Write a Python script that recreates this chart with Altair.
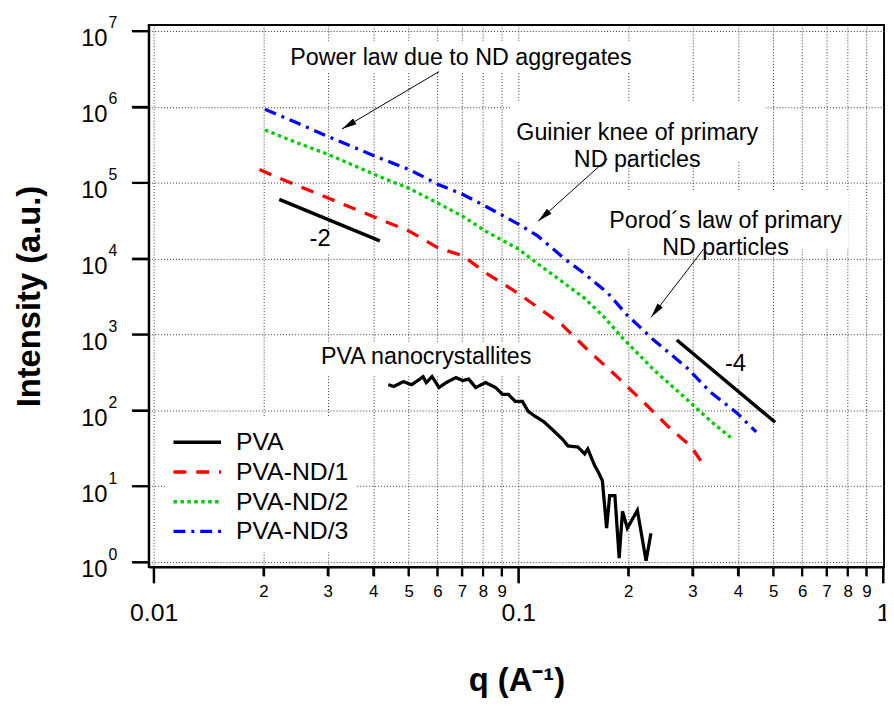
import math
import pandas as pd
import altair as alt

# ---------------- data ----------------
series_names = ["PVA", "PVA-ND/1", "PVA-ND/2", "PVA-ND/3"]

pva_q = [0.0440, 0.0455, 0.0484, 0.0509, 0.0525, 0.0548, 0.0559, 0.0580, 0.0606, 0.0634,
         0.0674, 0.0705, 0.0731, 0.0764, 0.0813, 0.0866, 0.0905, 0.0939, 0.0981, 0.1026,
         0.1064, 0.1111, 0.117, 0.1236, 0.132, 0.1368, 0.1456, 0.152, 0.155, 0.162,
         0.165, 0.170, 0.1746, 0.178, 0.184, 0.189, 0.193, 0.199, 0.212, 0.224, 0.231]
pva_I = [218, 206, 239, 218, 239, 278, 232, 278, 200, 232,
         270, 247, 258, 200, 232, 200, 162, 162, 131, 131,
         97, 83.5, 71.8, 56.5, 41.8, 33.9, 32.9, 26.7, 31, 18.6,
         16, 11.8, 2.8, 7.5, 7.5, 1.13, 4.66, 2.8, 4.8, 1.04, 2.4]

nd1_q = [0.0195, 0.0223, 0.0303, 0.0417, 0.0502, 0.0603, 0.0705, 0.0813, 0.100, 0.113,
         0.132, 0.155, 0.184, 0.221, 0.262, 0.297, 0.327]
nd1_I = [1.49e5, 1.13e5, 6.2e4, 3.3e4, 2.3e4, 1.38e4, 1.09e4, 6.5e3, 3.47e3, 2.28e3,
         1.33e3, 625, 295, 127, 56.5, 33.9, 17]

nd2_q = [0.0202, 0.0248, 0.0303, 0.0417, 0.0502, 0.0603, 0.0705, 0.0813, 0.100, 0.113,
         0.134, 0.152, 0.172, 0.192, 0.235, 0.290, 0.337, 0.382]
nd2_I = [4.95e5, 3.35e5, 2.33e5, 1.2e5, 8.4e4, 5.35e4, 3.6e4, 2.3e4, 1.34e4, 8.55e3,
         4.7e3, 2.99e3, 1.69e3, 925, 343, 139, 72, 44]

nd3_q = [0.0202, 0.0248, 0.0303, 0.0408, 0.0502, 0.0603, 0.0705, 0.0813, 0.100, 0.113,
         0.134, 0.152, 0.176, 0.199, 0.235, 0.290, 0.337, 0.396, 0.449]
nd3_I = [9.3e5, 6.1e5, 4.0e5, 2.2e5, 1.49e5, 9.5e4, 7.0e4, 4.9e4, 2.85e4, 1.99e4,
         9.9e3, 6.3e3, 3.5e3, 1.79e3, 845, 364, 172, 94, 52]

# guide slopes
slope_ids = ["-2", "-2", "-4", "-4"]
slope_q = [0.0221, 0.0417, 0.272, 0.506]
slope_I = [6.04e4, 1.71e4, 845, 69.7]
slope_labels = ["-2", "-4"]
slope_label_q = [0.0286, 0.394]
slope_label_I = [1.81e4, 411]

# annotations
annot_text = ["Power law due to ND aggregates",
              "Guinier knee of primary\nND particles",
              "Porod\u00b4s law of primary\nND particles",
              "PVA nanocrystallites"]
annot_q = [0.0696, 0.2118, 0.370, 0.0559]
annot_I = [4.44e6, 4.45e5, 3.115e4, 507]

# white boxes behind the annotation texts
box_q1 = [0.02327, 0.0951, 0.1702, 0.02773, 0.02637, 0.3605]
box_q2 = [0.208, 0.4749, 0.8035, 0.1133, 0.03124, 0.4296]
box_I1 = [7.40e6, 1.148e6, 7.68e4, 796, 2.45e4, 589]
box_I2 = [2.83e6, 1.89e5, 1.343e4, 286, 1.19e4, 278]

# arrows (start -> tip)
arrow_q_from = [0.0606, 0.1757, 0.3224]
arrow_I_from = [2.916e6, 2.07e5, 1.343e4]
arrow_q_to = [0.03283, 0.1133, 0.2312]
arrow_I_to = [5.1e5, 3.115e4, 1687]

x_major_ticks = [0.01, 0.1, 1.0]
x_minor_ticks = [0.02, 0.03, 0.04, 0.05, 0.06, 0.07, 0.08, 0.09,
                 0.2, 0.3, 0.4, 0.5, 0.6, 0.7, 0.8, 0.9]
y_ticks = [1, 10, 100, 1000, 1e4, 1e5, 1e6, 1e7]

# ---------------- layout / style ----------------
W, H = 742, 547
X_DOMAIN = [0.009692, 1.0063]
Y_DOMAIN = [0.86, 1.198e7]
FONT = "Liberation Sans"
GRID = dict(grid=True, gridColor="#333333", gridDash=[1, 2], gridWidth=1)
series_colors = ["#000000", "#ff0000", "#00cc00", "#0000ff"]
series_dash = [[1, 0], [13, 10], [3.5, 3.5], [12, 6, 3, 6]]

# ---------------- tables ----------------
rows = []
for name, qs, Is in zip(series_names, [pva_q, nd1_q, nd2_q, nd3_q], [pva_I, nd1_I, nd2_I, nd3_I]):
    for q, I in zip(qs, Is):
        rows.append({"series": name, "q": q, "I": I})
df = pd.DataFrame(rows)

df_slope = pd.DataFrame({"id": slope_ids, "q": slope_q, "I": slope_I})
df_slope_lab = pd.DataFrame({"t": slope_labels, "q": slope_label_q, "I": slope_label_I})
df_annot = pd.DataFrame({"t": annot_text, "q": annot_q, "I": annot_I})
df_box = pd.DataFrame({"q1": box_q1, "q2": box_q2, "I1": box_I1, "I2": box_I2})

kx = W / (math.log10(X_DOMAIN[1]) - math.log10(X_DOMAIN[0]))
ky = H / (math.log10(Y_DOMAIN[1]) - math.log10(Y_DOMAIN[0]))
angles = []
for q0, I0, q1, I1 in zip(arrow_q_from, arrow_I_from, arrow_q_to, arrow_I_to):
    dx = kx * (math.log10(q1) - math.log10(q0))
    dy = -ky * (math.log10(I1) - math.log10(I0))
    angles.append(math.degrees(math.atan2(dx, -dy)) % 360)
df_arrow = pd.DataFrame({"q0": arrow_q_from, "I0": arrow_I_from,
                         "q1": arrow_q_to, "I1": arrow_I_to, "ang": angles})
df_yt = pd.DataFrame({"v": y_ticks})
df_xminor = pd.DataFrame({"v": x_minor_ticks})
df_xmajor = pd.DataFrame({"v": x_major_ticks})

xscale = alt.Scale(type="log", domain=X_DOMAIN, nice=False)
yscale = alt.Scale(type="log", domain=Y_DOMAIN, nice=False)

xaxis_major = alt.Axis(
    values=x_major_ticks, orient="bottom",
    labelExpr="datum.value < 0.05 ? '0.01' : datum.value < 0.5 ? '0.1' : '1'",
    title="q (A\u207b\u00b9)",
    labelFont=FONT, labelColor="black", labelFontSize=25, labelPadding=18,
    ticks=True, tickSize=16, tickWidth=2, tickColor="black", tickOpacity=1,
    domain=True, domainColor="black", domainWidth=2, domainOpacity=1,
    labelBaseline="top", labelOverlap=False, labelFlush=False, labelBound=False,
    titleFont=FONT, titleFontSize=33, titleFontWeight="bold", titleColor="black",
    titleX=W / 2, titleY=125, titleBaseline="alphabetic", titleAlign="center",
    **GRID,
)

xaxis_minor = alt.Axis(
    values=x_minor_ticks, orient="bottom",
    labelExpr="toString(round(datum.value / pow(10, floor(log(datum.value) / LN10 + 1e-9))))",
    title=None, domain=False,
    labelFont=FONT, labelColor="black", labelFontSize=17, labelPadding=8,
    ticks=True, tickSize=9, tickWidth=2, tickColor="black", tickOpacity=1,
    labelBaseline="top", labelOverlap=False, labelFlush=False, labelBound=False,
    **GRID,
)

yaxis = alt.Axis(
    values=y_ticks, labelExpr="'10'", orient="left", title="Intensity (a.u.)",
    labelFont=FONT, labelFontSize=24, labelColor="black", labelPadding=25,
    labelBaseline="middle", labelOffset=8, labelOverlap=False, labelFlush=False,
    ticks=True, tickSize=17, tickWidth=2, tickColor="black", tickOpacity=1,
    domain=True, domainColor="black", domainWidth=2, domainOpacity=1,
    titleFont=FONT, titleFontSize=33, titleFontWeight="bold", titleColor="black",
    titleAngle=270, titleX=-110, titleY=H / 2, titleBaseline="alphabetic", titleAlign="center",
    **GRID,
)

yaxis_exp = alt.Axis(
    values=y_ticks, orient="left", labelExpr="toString(round(log(datum.value) / LN10))",
    title=None, ticks=False, domain=False, grid=False,
    labelFont=FONT, labelFontSize=16, labelColor="black", labelAlign="left",
    labelPadding=41, labelBaseline="middle", labelOffset=-8,
    labelOverlap=False, labelFlush=False,
)

# legend: a 48px long horizontal stroke as the symbol
legend = alt.Legend(
    orient="none", legendX=17, legendY=396, title=None,
    symbolType="M-1.574,0H1.574", symbolSize=930, symbolStrokeWidth=3.5, symbolOffset=7,
    symbolFillColor="transparent",
    labelFont=FONT, labelFontSize=25, labelColor="black", labelOffset=22,
    fillColor="white", padding=8, rowPadding=0,
)

boxes = alt.Chart(df_box).mark_rect(fill="white").encode(
    x=alt.X("q1:Q", scale=xscale, axis=None),
    x2="q2:Q",
    y=alt.Y("I1:Q", scale=yscale, axis=None),
    y2="I2:Q",
)

lines = alt.Chart(df).mark_line(strokeWidth=3.3).encode(
    x=alt.X("q:Q", scale=xscale, axis=xaxis_major),
    y=alt.Y("I:Q", scale=yscale, axis=yaxis),
    color=alt.Color("series:N", scale=alt.Scale(domain=series_names, range=series_colors), legend=legend),
    strokeDash=alt.StrokeDash("series:N", scale=alt.Scale(domain=series_names, range=series_dash), legend=legend),
)

yexp_layer = alt.Chart(df_yt).mark_point(opacity=0).encode(
    x=alt.value(0),
    y=alt.Y("v:Q", scale=yscale, axis=yaxis_exp),
)

xminor_layer = alt.Chart(df_xminor).mark_point(opacity=0).encode(
    x=alt.X("v:Q", scale=xscale, axis=xaxis_minor),
    y=alt.value(0),
)

# outward tick marks, drawn as thin filled ticks hanging off the frame
yticks_marks = alt.Chart(df_yt).mark_tick(
    color="black", filled=True, opacity=1, orient="horizontal", size=17, thickness=2, clip=False
).encode(
    y=alt.Y("v:Q", scale=yscale, axis=None),
    x=alt.value(-8.5),
)
xmajor_marks = alt.Chart(df_xmajor).mark_tick(
    color="black", filled=True, opacity=1, orient="vertical", size=16, thickness=2, clip=False
).encode(
    x=alt.X("v:Q", scale=xscale, axis=None),
    y=alt.value(H + 8),
)
xminor_marks = alt.Chart(df_xminor).mark_tick(
    color="black", filled=True, opacity=1, orient="vertical", size=9, thickness=2, clip=False
).encode(
    x=alt.X("v:Q", scale=xscale, axis=None),
    y=alt.value(H + 4.5),
)

slopes = alt.Chart(df_slope).mark_line(color="black", strokeWidth=3.5).encode(
    x=alt.X("q:Q", scale=xscale, axis=None),
    y=alt.Y("I:Q", scale=yscale, axis=None),
    detail="id:N",
)

shafts = alt.Chart(df_arrow).mark_rule(color="black", strokeWidth=1).encode(
    x=alt.X("q0:Q", scale=xscale, axis=None),
    y=alt.Y("I0:Q", scale=yscale, axis=None),
    x2="q1:Q",
    y2="I1:Q",
)

heads = alt.Chart(df_arrow).mark_point(
    shape="M0,0L-0.45,2L0.45,2Z", filled=True, fill="black", size=225, opacity=1, strokeWidth=0
).encode(
    x=alt.X("q1:Q", scale=xscale, axis=None),
    y=alt.Y("I1:Q", scale=yscale, axis=None),
    angle=alt.Angle("ang:Q", scale=None),
)

annots = alt.Chart(df_annot).mark_text(
    font=FONT, fontSize=23.5, color="black", align="center", baseline="middle",
    lineBreak="\n", lineHeight=27,
).encode(
    x=alt.X("q:Q", scale=xscale, axis=None),
    y=alt.Y("I:Q", scale=yscale, axis=None),
    text="t:N",
)

slope_text = alt.Chart(df_slope_lab).mark_text(
    font=FONT, fontSize=24, color="black", align="center", baseline="middle",
).encode(
    x=alt.X("q:Q", scale=xscale, axis=None),
    y=alt.Y("I:Q", scale=yscale, axis=None),
    text="t:N",
)

chart = alt.layer(
    boxes, lines, yexp_layer, xminor_layer, yticks_marks, xmajor_marks, xminor_marks,
    slopes, shafts, heads, annots, slope_text
).resolve_axis(x="independent", y="independent").properties(
    width=W, height=H,
    padding={"left": 142, "top": 14, "right": 2, "bottom": 132},
    autosize=alt.AutoSizeParams(type="none"),
    background="white",
).configure_view(stroke="black", strokeWidth=2)

chart.save("out.html", embed_options={"renderer": "svg", "actions": False})
